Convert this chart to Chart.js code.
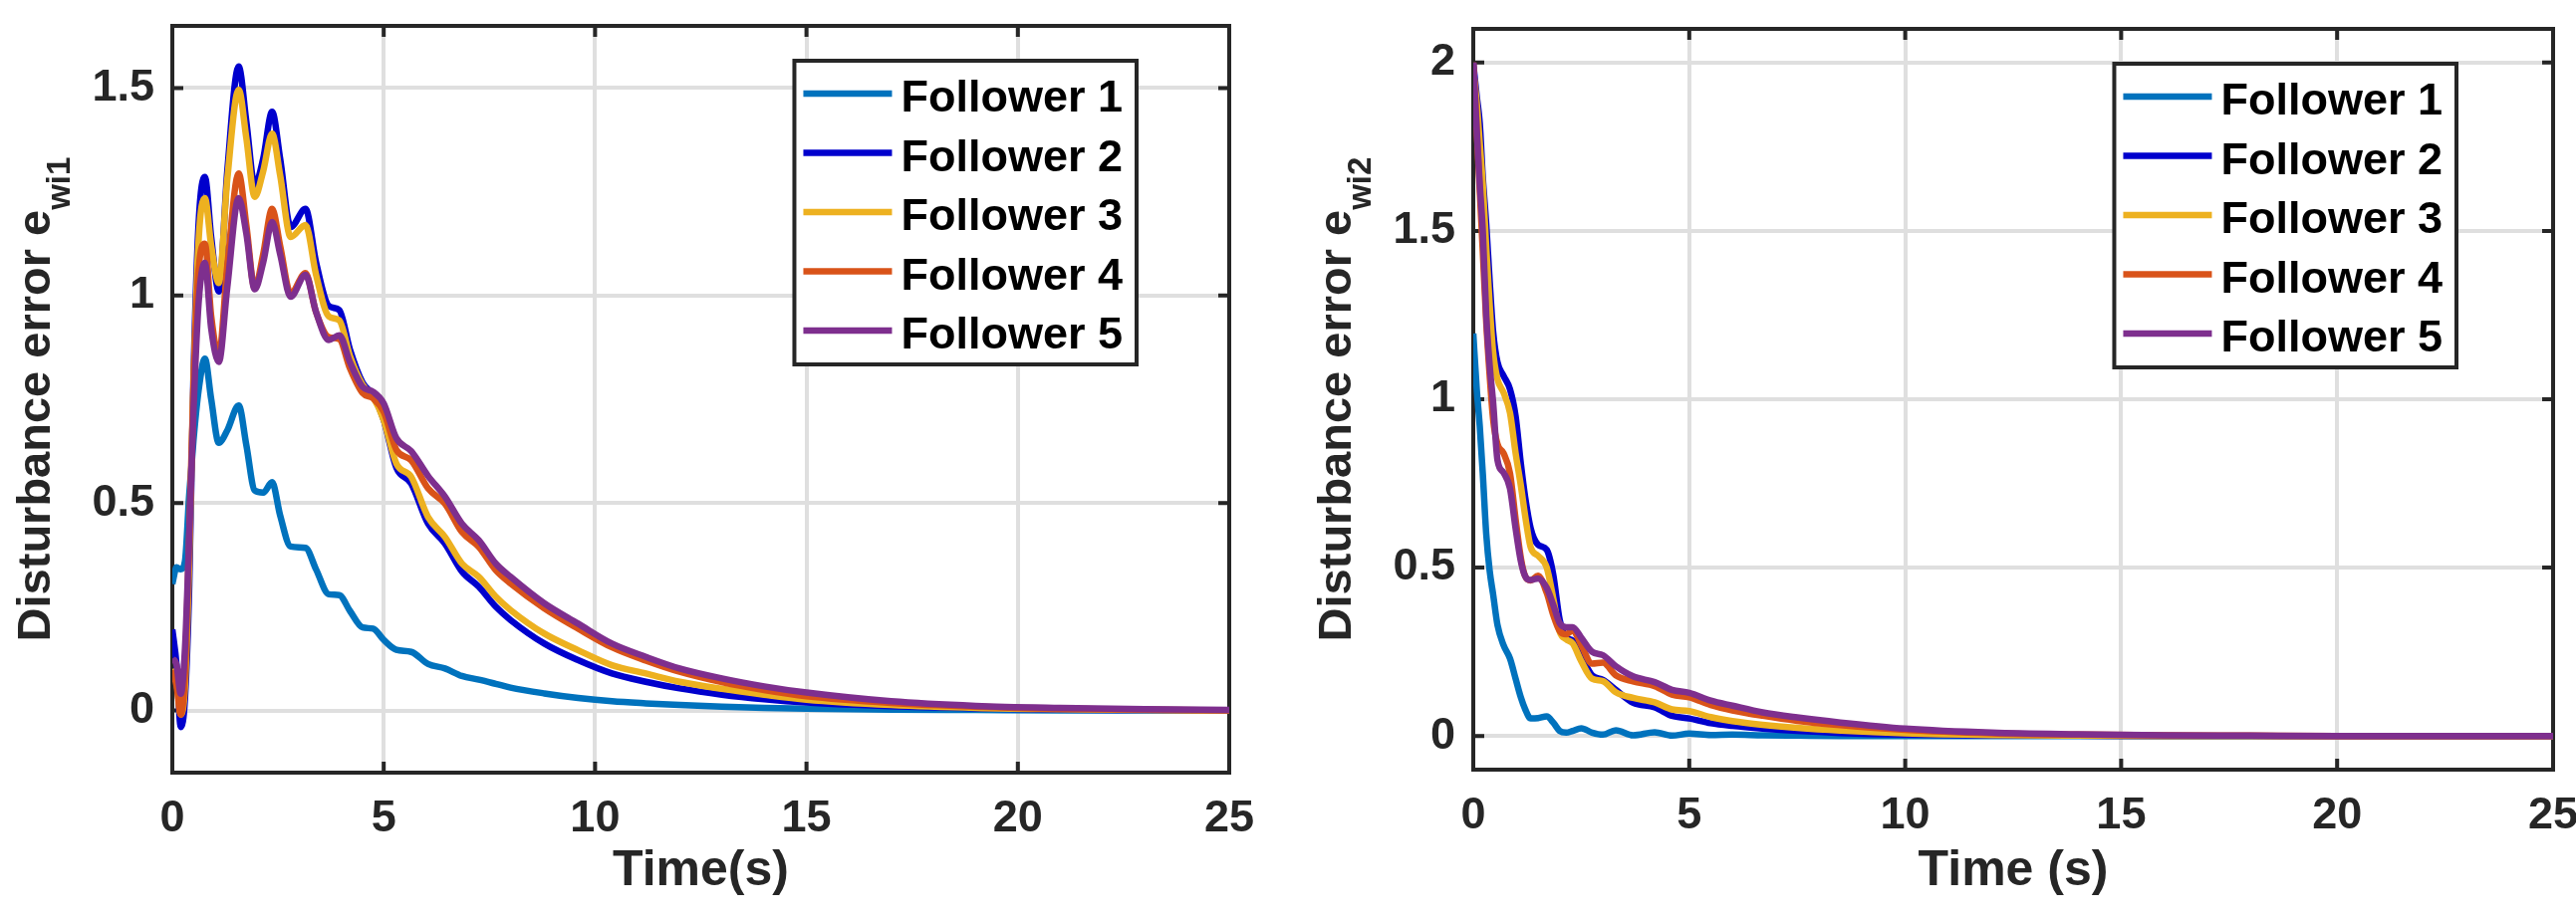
<!DOCTYPE html>
<html>
<head>
<meta charset="utf-8">
<title>Disturbance error</title>
<script src="https://cdn.jsdelivr.net/npm/chart.js@4.4.1/dist/chart.umd.min.js"></script>
<style>
  html, body { margin: 0; padding: 0; background: #fff; }
  #wrap { position: relative; width: 2586px; height: 922px; }
  #chart1 { position: absolute; left: 0; top: 0; }
  #chart2 { position: absolute; left: 1290px; top: 0; }
</style>
</head>
<body>
<div id="wrap">
  <canvas id="chart1" width="1290" height="922"></canvas>
  <canvas id="chart2" width="1296" height="922"></canvas>
</div>
<script>
// series names and MATLAB colours
const followerNames = ['Follower 1', 'Follower 2', 'Follower 3', 'Follower 4', 'Follower 5'];
const followerColors = ['#0072BD', '#0000CD', '#EDB120', '#D95319', '#7E2F8E'];

// tick labels
const xTicks = [0, 5, 10, 15, 20, 25];
const yTicksLeft = [0, 0.5, 1, 1.5];
const yTicksRight = [0, 0.5, 1, 1.5, 2];

// left plot: e_wi1
const timeLeft = [0, 0.1, 0.2, 0.3, 0.4, 0.5, 0.62, 0.77, 0.92, 1.1, 1.3, 1.57, 1.75, 1.95, 2.15, 2.36, 2.55, 2.8, 3.15, 3.4, 3.7, 3.95, 4.2, 4.5, 4.75, 5.0, 5.3, 5.65, 6.05, 6.45, 6.85, 7.25, 7.65, 8.0, 8.8, 9.6, 10.4, 11.2, 12, 13, 14, 15, 17, 19, 21, 23, 25];
const ew1F1 = [0.305, 0.345, 0.34, 0.36, 0.52, 0.65, 0.77, 0.848, 0.75, 0.645, 0.675, 0.735, 0.64, 0.53, 0.525, 0.55, 0.47, 0.395, 0.392, 0.34, 0.28, 0.278, 0.24, 0.2, 0.197, 0.17, 0.146, 0.141, 0.112, 0.101, 0.083, 0.074, 0.064, 0.055, 0.041, 0.03, 0.022, 0.017, 0.013, 0.009, 0.006, 0.004, 0.002, 0.001, 0, 0, 0];
const ew1F2 = [0.195, 0.11, -0.04, 0.03, 0.3, 0.8, 1.17, 1.286, 1.14, 1.01, 1.3, 1.552, 1.42, 1.266, 1.33, 1.443, 1.33, 1.165, 1.209, 1.08, 0.975, 0.965, 0.87, 0.79, 0.76, 0.7, 0.585, 0.547, 0.45, 0.402, 0.335, 0.298, 0.25, 0.218, 0.161, 0.121, 0.089, 0.069, 0.053, 0.038, 0.027, 0.019, 0.01, 0.005, 0.002, 0.001, 0];
const ew1F3 = [0.1, 0.07, -0.01, 0.06, 0.36, 0.78, 1.13, 1.235, 1.12, 1.03, 1.28, 1.496, 1.38, 1.238, 1.3, 1.39, 1.29, 1.141, 1.17, 1.05, 0.95, 0.94, 0.855, 0.785, 0.755, 0.7, 0.595, 0.563, 0.466, 0.418, 0.354, 0.322, 0.274, 0.242, 0.185, 0.145, 0.109, 0.089, 0.069, 0.052, 0.038, 0.026, 0.013, 0.006, 0.003, 0.001, 0];
const ew1F4 = [0.097, 0.06, -0.01, 0.09, 0.42, 0.78, 1.06, 1.125, 0.95, 0.856, 1.07, 1.294, 1.17, 1.017, 1.1, 1.209, 1.12, 1.005, 1.054, 0.96, 0.9, 0.895, 0.825, 0.765, 0.752, 0.72, 0.628, 0.603, 0.535, 0.498, 0.43, 0.394, 0.338, 0.306, 0.246, 0.197, 0.152, 0.12, 0.093, 0.068, 0.049, 0.034, 0.018, 0.009, 0.004, 0.002, 0];
const ew1F5 = [0.125, 0.11, 0.04, 0.15, 0.42, 0.72, 0.98, 1.079, 0.92, 0.84, 1.02, 1.235, 1.15, 1.015, 1.08, 1.177, 1.1, 0.997, 1.05, 0.96, 0.893, 0.904, 0.84, 0.78, 0.768, 0.74, 0.656, 0.625, 0.565, 0.515, 0.45, 0.41, 0.354, 0.322, 0.258, 0.209, 0.161, 0.129, 0.101, 0.077, 0.058, 0.043, 0.022, 0.011, 0.006, 0.003, 0.001];

// right plot: e_wi2
const timeRight = [0, 0.08, 0.15, 0.22, 0.3, 0.38, 0.46, 0.56, 0.7, 0.85, 0.98, 1.1, 1.2, 1.33, 1.5, 1.7, 1.85, 2.0, 2.15, 2.3, 2.5, 2.75, 3.0, 3.3, 3.7, 4.2, 4.6, 5.0, 5.5, 6.0, 6.7, 7.5, 8.5, 10, 12, 14, 16, 18, 20, 25];
const ew2F1 = [1.195, 1.03, 0.92, 0.78, 0.6, 0.49, 0.42, 0.33, 0.27, 0.23, 0.17, 0.115, 0.08, 0.052, 0.053, 0.058, 0.04, 0.015, 0.01, 0.015, 0.023, 0.01, 0.004, 0.017, 0.002, 0.011, 0.001, 0.007, 0.003, 0.004, 0.002, 0.001, 0, 0, 0, 0, 0, 0, 0, 0];
const ew2F2 = [1.997, 1.9, 1.82, 1.66, 1.52, 1.35, 1.2, 1.11, 1.07, 1.03, 0.95, 0.81, 0.71, 0.616, 0.568, 0.553, 0.48, 0.345, 0.293, 0.283, 0.237, 0.18, 0.167, 0.137, 0.099, 0.085, 0.06, 0.052, 0.038, 0.03, 0.022, 0.015, 0.009, 0.004, 0.002, 0.001, 0, 0, 0, 0];
const ew2F3 = [1.98, 1.88, 1.76, 1.64, 1.45, 1.28, 1.14, 1.06, 1.02, 0.96, 0.84, 0.745, 0.655, 0.56, 0.535, 0.5, 0.41, 0.31, 0.287, 0.275, 0.222, 0.17, 0.163, 0.13, 0.113, 0.1, 0.079, 0.074, 0.056, 0.044, 0.033, 0.024, 0.016, 0.008, 0.003, 0.001, 0, 0, 0, 0];
const ew2F4 = [2.0, 1.8, 1.62, 1.44, 1.23, 1.07, 0.94, 0.867, 0.84, 0.78, 0.644, 0.53, 0.475, 0.462, 0.476, 0.425, 0.36, 0.312, 0.302, 0.314, 0.27, 0.215, 0.218, 0.18, 0.162, 0.148, 0.123, 0.115, 0.092, 0.076, 0.06, 0.045, 0.032, 0.018, 0.008, 0.004, 0.002, 0.001, 0, 0];
const ew2F5 = [2.0, 1.8, 1.64, 1.5, 1.25, 1.1, 0.99, 0.82, 0.782, 0.735, 0.616, 0.52, 0.475, 0.463, 0.468, 0.44, 0.39, 0.335, 0.323, 0.323, 0.292, 0.25, 0.24, 0.207, 0.177, 0.16, 0.137, 0.128, 0.105, 0.09, 0.07, 0.055, 0.04, 0.022, 0.01, 0.005, 0.002, 0.001, 0, 0];

const FONT = '"Liberation Sans", Arial, Helvetica, sans-serif';
const AXIS_COLOR = '#262626';

// MATLAB-style box, inward ticks, legend and y label with subscript
const matlabAxes = {
  id: 'matlabAxes',
  beforeDatasetsDraw(chart, args, opts) {
    const { ctx, chartArea: a, scales: { x, y } } = chart;
    ctx.save();
    ctx.strokeStyle = AXIS_COLOR;
    ctx.lineWidth = 4;
    ctx.beginPath();
    opts.xTicks.forEach(v => {
      const px = x.getPixelForValue(v);
      ctx.moveTo(px, a.bottom); ctx.lineTo(px, a.bottom - 11);
      ctx.moveTo(px, a.top); ctx.lineTo(px, a.top + 11);
    });
    opts.yTicks.forEach(v => {
      const py = y.getPixelForValue(v);
      ctx.moveTo(a.left, py); ctx.lineTo(a.left + 11, py);
      ctx.moveTo(a.right, py); ctx.lineTo(a.right - 11, py);
    });
    ctx.stroke();
    ctx.strokeRect(a.left, a.top, a.right - a.left, a.bottom - a.top);
    ctx.restore();
  },
  afterDraw(chart, args, opts) {
    const { ctx, chartArea: a } = chart;
    const sets = chart.data.datasets;

    // legend box
    ctx.save();
    ctx.font = `bold 45px ${FONT}`;
    const textW = Math.max(...sets.map(d => ctx.measureText(d.label).width));
    const boxW = 9 + 89 + 9 + textW + 14;
    const boxH = 305;
    const bx = a.right - opts.legendRight - boxW;
    const by = a.top + opts.legendTop;
    ctx.fillStyle = '#fff';
    ctx.fillRect(bx, by, boxW, boxH);
    ctx.strokeStyle = AXIS_COLOR;
    ctx.lineWidth = 4;
    ctx.strokeRect(bx, by, boxW, boxH);
    sets.forEach((d, i) => {
      const cy = by + 33 + i * 59.5;
      ctx.strokeStyle = d.borderColor;
      ctx.lineWidth = 6.5;
      ctx.beginPath();
      ctx.moveTo(bx + 9, cy);
      ctx.lineTo(bx + 98, cy);
      ctx.stroke();
      ctx.fillStyle = '#000';
      ctx.textAlign = 'left';
      ctx.textBaseline = 'alphabetic';
      ctx.fillText(d.label, bx + 107, cy + 18);
    });
    ctx.restore();

    // y axis title with subscript
    ctx.save();
    const mainFont = `bold 47px ${FONT}`;
    const subFont = `bold 33px ${FONT}`;
    ctx.font = mainFont;
    const mw = ctx.measureText(opts.yTitle).width;
    ctx.font = subFont;
    const sw = ctx.measureText(opts.ySub).width;
    const cy = (a.top + a.bottom) / 2;
    ctx.translate(a.left - opts.yTitleOffset, cy + (mw + sw) / 2);
    ctx.rotate(-Math.PI / 2);
    ctx.fillStyle = AXIS_COLOR;
    ctx.textAlign = 'left';
    ctx.textBaseline = 'alphabetic';
    ctx.font = mainFont;
    ctx.fillText(opts.yTitle, 0, 0);
    ctx.font = subFont;
    ctx.fillText(opts.ySub, mw, 20);
    ctx.restore();
  }
};

function makeChart(canvasId, time, series, cfg) {
  const datasets = series.map((vals, i) => ({
    label: followerNames[i],
    data: time.map((t, k) => ({ x: t, y: vals[k] })),
    borderColor: followerColors[i],
    backgroundColor: followerColors[i],
    borderWidth: 6.5,
    pointRadius: 0,
    fill: false,
    cubicInterpolationMode: 'monotone',
    borderJoinStyle: 'round',
    order: series.length - i
  }));

  return new Chart(document.getElementById(canvasId), {
    type: 'line',
    data: { datasets: datasets },
    options: {
      responsive: false,
      animation: false,
      devicePixelRatio: 1,
      events: [],
      layout: { autoPadding: false, padding: cfg.padding },
      plugins: {
        legend: { display: false },
        tooltip: { enabled: false },
        matlabAxes: {
          xTicks: xTicks,
          yTicks: cfg.yTicks,
          legendRight: cfg.legendRight,
          legendTop: 35,
          yTitle: 'Disturbance error e',
          ySub: cfg.ySub,
          yTitleOffset: 123
        }
      },
      scales: {
        x: {
          type: 'linear',
          min: 0,
          max: 25,
          afterBuildTicks: s => { s.ticks = xTicks.map(v => ({ value: v })); },
          afterFit: s => {
            s.height = cfg.xAxisHeight;
            s.paddingLeft = 0; s.paddingRight = 0;
          },
          border: { display: false },
          grid: { color: '#dfdfdf', lineWidth: 4, drawTicks: false },
          ticks: {
            autoSkip: false,
            maxRotation: 0,
            padding: 20,
            color: AXIS_COLOR,
            font: { family: FONT, size: 45, weight: 'bold' },
            callback: v => String(v)
          },
          title: {
            display: true,
            text: cfg.xTitle,
            color: AXIS_COLOR,
            font: { family: FONT, size: 50, weight: 'bold' },
            padding: { top: 0, bottom: 17 }
          }
        },
        y: {
          type: 'linear',
          min: cfg.yMin,
          max: cfg.yMax,
          afterBuildTicks: s => { s.ticks = cfg.yTicks.map(v => ({ value: v })); },
          afterFit: s => {
            s.width = cfg.yAxisWidth;
            s.paddingTop = 0; s.paddingBottom = 0;
          },
          border: { display: false },
          grid: { color: '#dfdfdf', lineWidth: 4, drawTicks: false },
          ticks: {
            padding: 18,
            color: AXIS_COLOR,
            font: { family: FONT, size: 45, weight: 'bold' },
            callback: v => String(v)
          },
          title: { display: false }
        }
      }
    },
    plugins: [matlabAxes]
  });
}

makeChart('chart1', timeLeft, [ew1F1, ew1F2, ew1F3, ew1F4, ew1F5], {
  padding: { left: 0, top: 26, right: 56, bottom: 0 },
  yAxisWidth: 173,
  xAxisHeight: 146,
  yMin: -0.15,
  yMax: 1.65,
  yTicks: yTicksLeft,
  xTitle: 'Time(s)',
  ySub: 'wi1',
  legendRight: 93
});

makeChart('chart2', timeRight, [ew2F1, ew2F2, ew2F3, ew2F4, ew2F5], {
  padding: { left: 0, top: 29, right: 23, bottom: 0 },
  yAxisWidth: 189,
  xAxisHeight: 149,
  yMin: -0.1,
  yMax: 2.1,
  yTicks: yTicksRight,
  xTitle: 'Time (s)',
  ySub: 'wi2',
  legendRight: 97
});
</script>
</body>
</html>
